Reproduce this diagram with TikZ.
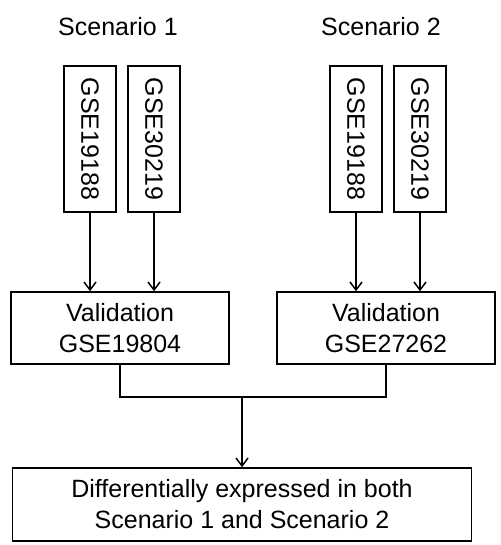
\documentclass[tikz,border=0pt]{standalone}
\usepackage{fontspec}
\setmainfont{Liberation Sans}
\usetikzlibrary{arrows.meta,positioning}
\tikzset{
  block/.style = {draw, line width=1.5pt, rectangle, inner sep=0pt, align=center},
  dsbox/.style = {block, rotate=-90, minimum width=146pt, minimum height=52pt},
  valbox/.style = {block, minimum width=218pt, minimum height=72pt},
  sig/.style   = {-{Straight Barb[length=8pt,width=12pt]}, line width=1.5pt},
  link/.style  = {line width=1.5pt},
}
\begin{document}
\begin{tikzpicture}[x=1pt,y=-1pt,font=\fontsize{25}{31}\selectfont]
\useasboundingbox (0,0) rectangle (500,545);
\node[anchor=base] (sc1) at (118,36) {Scenario 1};
\node[anchor=base] (sc2) at (381,36) {Scenario 2};
\node[dsbox] (a1) at (90,139) {GSE19188};
\node[dsbox] (b1) at (154,139) {GSE30219};
\node[dsbox] (a2) at (356,139) {GSE19188};
\node[dsbox] (b2) at (420,139) {GSE30219};
\node[valbox] (v1) at (120,328) {Validation\\GSE19804};
\node[valbox] (v2) at (386,328) {Validation\\GSE27262};
\node[block,minimum width=459pt,minimum height=73pt] (res) at (242,504.5)
  {Differentially expressed in both\\Scenario 1 and Scenario 2};
\coordinate (join) at (242,397);
\draw[sig] (a1) -- (a1 |- v1.north);
\draw[sig] (b1) -- (b1 |- v1.north);
\draw[sig] (a2) -- (a2 |- v2.north);
\draw[sig] (b2) -- (b2 |- v2.north);
\draw[link] (v1.south) |- (join) -| (v2.south);
\draw[sig] (join) -- (res.north);
\end{tikzpicture}
\end{document}
